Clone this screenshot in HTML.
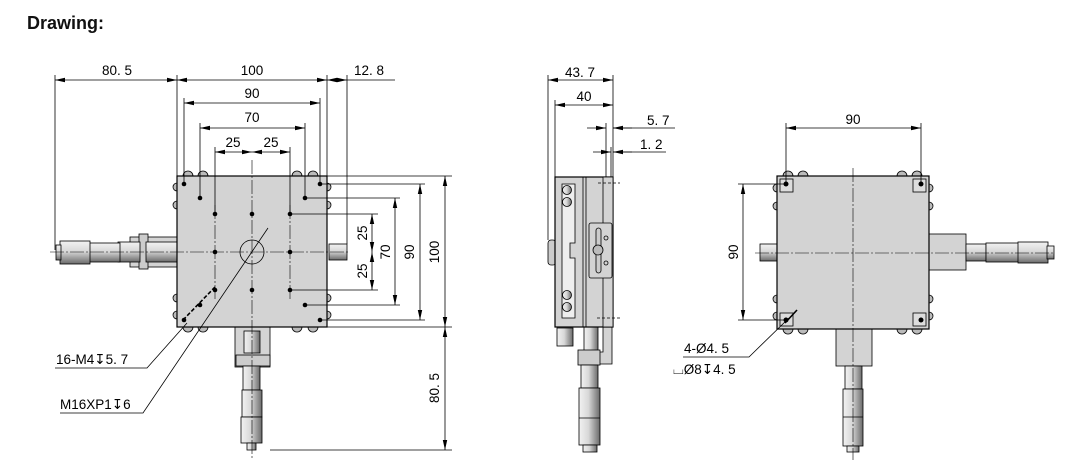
<!DOCTYPE html>
<html><head><meta charset="utf-8"><style>
html,body{margin:0;padding:0;background:#fff;}
svg{display:block;}
text{font-family:"Liberation Sans","DejaVu Sans",sans-serif;}
</style></head><body>
<svg width="1065" height="473" viewBox="0 0 1065 473" xmlns="http://www.w3.org/2000/svg">
<defs>
<linearGradient id="gv" x1="0" y1="0" x2="0" y2="1"><stop offset="0" stop-color="#f2f2f2"/><stop offset="0.45" stop-color="#d8d8d8"/><stop offset="1" stop-color="#6a6a6a"/></linearGradient>
<linearGradient id="gh" x1="0" y1="0" x2="1" y2="0"><stop offset="0" stop-color="#f2f2f2"/><stop offset="0.45" stop-color="#d8d8d8"/><stop offset="1" stop-color="#6a6a6a"/></linearGradient>
<marker id="a" markerWidth="10" markerHeight="6" refX="10" refY="3" orient="auto-start-reverse" markerUnits="userSpaceOnUse"><path d="M0,0.8 L10,3 L0,5.2z" fill="#000"/></marker>
</defs>
<text x="27" y="29" font-size="18" font-weight="bold" fill="#111">Drawing:</text>

<g stroke="#000" stroke-width="0.8" fill="none">
<rect x="130" y="237" width="47" height="30" fill="#d4d4d4"/>
<rect x="139" y="234" width="9" height="35" fill="#ccc"/>
<rect x="146" y="242" width="31" height="20" fill="url(#gv)"/>
<rect x="118" y="242" width="22" height="20" fill="url(#gv)"/>
<rect x="88" y="243" width="32" height="19" fill="url(#gv)"/>
<rect x="60" y="241" width="30" height="23" fill="url(#gv)"/>
<rect x="56" y="245" width="5" height="15" fill="url(#gv)"/>
<rect x="235" y="327" width="35" height="40" fill="#d4d4d4"/>
<rect x="236" y="355" width="34" height="11" fill="#ccc"/>
<rect x="244" y="331" width="16" height="22" fill="url(#gh)"/>
<rect x="243" y="366" width="17" height="24" fill="url(#gh)"/>
<rect x="242" y="390" width="20" height="27" fill="url(#gh)"/>
<rect x="241" y="417" width="21" height="26" fill="url(#gh)"/>
<rect x="247" y="443" width="9" height="7" fill="url(#gh)"/>
<rect x="329" y="244" width="18" height="16" fill="url(#gv)"/>
<g fill="#bbb">
<circle cx="188" cy="176" r="5"/><circle cx="203" cy="176" r="5"/><circle cx="297" cy="176" r="5"/><circle cx="313" cy="176" r="5"/>
<circle cx="188" cy="327" r="5"/><circle cx="203" cy="327" r="5"/><circle cx="297" cy="327" r="5"/><circle cx="313" cy="327" r="5"/>
<circle cx="177" cy="187" r="4"/><circle cx="177" cy="205" r="4"/><circle cx="177" cy="298" r="4"/><circle cx="177" cy="315" r="4"/>
<circle cx="327" cy="187" r="4"/><circle cx="327" cy="205" r="4"/><circle cx="327" cy="298" r="4"/><circle cx="327" cy="315" r="4"/>
</g>
<rect x="177" y="176" width="150" height="151" fill="#d3d3d3" stroke-width="1.2"/>
<circle cx="252" cy="252" r="12"/>
<g stroke-dasharray="14,2,2,2" stroke-width="0.6">
<line x1="252" y1="160" x2="252" y2="458"/>
<line x1="50" y1="252" x2="350" y2="252"/>
<line x1="215" y1="205" x2="215" y2="300"/><line x1="290" y1="205" x2="290" y2="300"/>
</g>
<g fill="#000" stroke="none">
<circle cx="184" cy="184" r="2.3"/><circle cx="320" cy="184" r="2.3"/><circle cx="184" cy="320" r="2.3"/><circle cx="320" cy="320" r="2.3"/>
<circle cx="200" cy="198" r="2.3"/><circle cx="305" cy="198" r="2.3"/><circle cx="200" cy="305" r="2.3"/><circle cx="305" cy="305" r="2.3"/>
<circle cx="215" cy="214" r="2.3"/><circle cx="252" cy="214" r="2.3"/><circle cx="290" cy="214" r="2.3"/>
<circle cx="215" cy="252" r="2.3"/><circle cx="290" cy="252" r="2.3"/>
<circle cx="215" cy="290" r="2.3"/><circle cx="252" cy="290" r="2.3"/><circle cx="290" cy="290" r="2.3"/>
</g>
<line x1="55" y1="75" x2="55" y2="250"/><line x1="177" y1="75" x2="177" y2="176"/><line x1="327" y1="75" x2="327" y2="176"/><line x1="347" y1="75" x2="347" y2="244"/>
<line x1="55" y1="80" x2="177" y2="80" marker-start="url(#a)" marker-end="url(#a)"/>
<line x1="177" y1="80" x2="327" y2="80" marker-start="url(#a)" marker-end="url(#a)"/>
<line x1="327" y1="80" x2="347" y2="80" marker-start="url(#a)" marker-end="url(#a)"/>
<line x1="347" y1="80" x2="395" y2="80"/>
<line x1="184" y1="98" x2="184" y2="184"/><line x1="320" y1="98" x2="320" y2="184"/>
<line x1="184" y1="103" x2="320" y2="103" marker-start="url(#a)" marker-end="url(#a)"/>
<line x1="200" y1="123" x2="200" y2="198"/><line x1="305" y1="123" x2="305" y2="198"/>
<line x1="200" y1="128" x2="305" y2="128" marker-start="url(#a)" marker-end="url(#a)"/>
<line x1="215" y1="147" x2="215" y2="214"/><line x1="290" y1="147" x2="290" y2="214"/>
<line x1="215" y1="152" x2="252" y2="152" marker-start="url(#a)" marker-end="url(#a)"/>
<line x1="252" y1="152" x2="290" y2="152" marker-start="url(#a)" marker-end="url(#a)"/>
<line x1="327" y1="176" x2="452" y2="176"/><line x1="327" y1="327" x2="452" y2="327"/><line x1="270" y1="450" x2="452" y2="450"/>
<line x1="320" y1="184" x2="425" y2="184"/><line x1="305" y1="198" x2="400" y2="198"/><line x1="290" y1="214" x2="378" y2="214"/><line x1="290" y1="290" x2="378" y2="290"/><line x1="305" y1="305" x2="400" y2="305"/><line x1="320" y1="320" x2="425" y2="320"/>
<line x1="372" y1="214" x2="372" y2="252" marker-start="url(#a)" marker-end="url(#a)"/>
<line x1="372" y1="252" x2="372" y2="290" marker-start="url(#a)" marker-end="url(#a)"/>
<line x1="395" y1="198" x2="395" y2="305" marker-start="url(#a)" marker-end="url(#a)"/>
<line x1="420" y1="184" x2="420" y2="320" marker-start="url(#a)" marker-end="url(#a)"/>
<line x1="445" y1="176" x2="445" y2="327" marker-start="url(#a)" marker-end="url(#a)"/>
<line x1="445" y1="327" x2="445" y2="450" marker-start="url(#a)" marker-end="url(#a)"/>
<polyline points="55,368 147,368 187,323"/>
<polyline points="60,413 143,413 268,228"/>
<line x1="183" y1="320" x2="215" y2="287" stroke-width="1.6" stroke-dasharray="4,2"/>

<rect x="548" y="240" width="8" height="25" rx="3" fill="#ccc"/>
<rect x="557" y="328" width="16" height="18" fill="url(#gh)"/>
<rect x="584" y="327" width="14" height="25" fill="url(#gh)"/>
<path d="M603,327 H612 V364 H580 V352 H603z" fill="#d3d3d3"/>
<rect x="578" y="350" width="22" height="15" fill="#ccc"/>
<rect x="581" y="365" width="17" height="23" fill="url(#gh)"/>
<rect x="579" y="388" width="21" height="57" fill="url(#gh)"/>
<line x1="579" y1="418" x2="600" y2="418"/>
<rect x="583" y="445" width="14" height="7" fill="url(#gh)"/>
<rect x="555" y="177" width="58" height="150" fill="#d3d3d3" stroke-width="1.2"/>
<line x1="583" y1="177" x2="583" y2="327"/><line x1="586" y1="177" x2="586" y2="327"/>
<rect x="603" y="177" width="10" height="150" fill="#d3d3d3"/>
<path d="M562,184 H575 V243 H570 V258 H575 V318 H562z" fill="#eee"/>
<g fill="url(#gh)"><circle cx="567" cy="190" r="4.5"/><circle cx="567" cy="202" r="4.5"/><circle cx="567" cy="295" r="4.5"/><circle cx="567" cy="307" r="4.5"/></g>
<rect x="589" y="223" width="23" height="55" rx="2" fill="#d3d3d3"/>
<rect x="596" y="228" width="5" height="45" rx="2.5" fill="#ccc"/>
<circle cx="598" cy="250" r="5" fill="#bbb"/>
<circle cx="606" cy="238" r="2"/><circle cx="606" cy="263" r="2"/>
<line x1="598" y1="183" x2="620" y2="183" stroke-dasharray="3,2"/><line x1="597" y1="318" x2="620" y2="318" stroke-dasharray="3,2"/>
<line x1="548" y1="75" x2="548" y2="240"/><line x1="613" y1="75" x2="613" y2="177"/><line x1="555" y1="100" x2="555" y2="177"/>
<line x1="548" y1="80" x2="613" y2="80" marker-start="url(#a)" marker-end="url(#a)"/>
<line x1="555" y1="105" x2="613" y2="105" marker-start="url(#a)" marker-end="url(#a)"/>
<line x1="606" y1="123" x2="606" y2="177"/><line x1="611" y1="147" x2="611" y2="177"/>
<line x1="587" y1="128" x2="606" y2="128" marker-end="url(#a)"/><line x1="632" y1="128" x2="613" y2="128" marker-end="url(#a)"/><line x1="613" y1="128" x2="675" y2="128"/>
<line x1="593" y1="152" x2="611" y2="152" marker-end="url(#a)"/><line x1="632" y1="152" x2="613" y2="152" marker-end="url(#a)"/><line x1="613" y1="152" x2="666" y2="152"/>

<rect x="929" y="234" width="37" height="36" fill="#d3d3d3"/>
<rect x="966" y="244" width="20" height="17" fill="url(#gv)"/>
<rect x="986" y="243" width="33" height="19" fill="url(#gv)"/>
<rect x="1018" y="242" width="30" height="21" fill="url(#gv)"/>
<rect x="1047" y="246" width="7" height="13" fill="url(#gv)"/>
<rect x="836" y="329" width="36" height="37" fill="#d3d3d3"/>
<rect x="845" y="366" width="17" height="23" fill="url(#gh)"/>
<rect x="843" y="389" width="20" height="57" fill="url(#gh)"/>
<line x1="843" y1="417" x2="863" y2="417"/>
<rect x="847" y="446" width="12" height="6" fill="url(#gh)"/>
<rect x="760" y="244" width="17" height="17" fill="url(#gv)"/>
<g fill="#bbb">
<circle cx="788" cy="176" r="5"/><circle cx="803" cy="176" r="5"/><circle cx="902" cy="176" r="5"/><circle cx="917" cy="176" r="5"/>
<circle cx="788" cy="329" r="5"/><circle cx="803" cy="329" r="5"/><circle cx="902" cy="329" r="5"/><circle cx="917" cy="329" r="5"/>
<circle cx="777" cy="188" r="4"/><circle cx="777" cy="206" r="4"/><circle cx="777" cy="299" r="4"/><circle cx="777" cy="316" r="4"/>
<circle cx="929" cy="188" r="4"/><circle cx="929" cy="206" r="4"/><circle cx="929" cy="299" r="4"/><circle cx="929" cy="316" r="4"/>
</g>
<rect x="777" y="176" width="152" height="153" fill="#d3d3d3" stroke-width="1.2"/>
<rect x="780" y="179" width="13" height="13" fill="#ddd"/><rect x="913" y="179" width="13" height="13" fill="#ddd"/>
<rect x="780" y="313" width="13" height="13" fill="#ddd"/><rect x="913" y="313" width="13" height="13" fill="#ddd"/>
<g fill="#000" stroke="none"><circle cx="786" cy="184" r="2.5"/><circle cx="921" cy="184" r="2.5"/><circle cx="786" cy="320" r="2.5"/><circle cx="921" cy="320" r="2.5"/></g>
<g stroke-dasharray="14,2,2,2" stroke-width="0.6">
<line x1="853" y1="168" x2="853" y2="460"/>
<line x1="755" y1="253" x2="1055" y2="253"/>
</g>
<line x1="786" y1="123" x2="786" y2="184"/><line x1="921" y1="123" x2="921" y2="184"/>
<line x1="786" y1="128" x2="921" y2="128" marker-start="url(#a)" marker-end="url(#a)"/>
<line x1="738" y1="184" x2="786" y2="184"/><line x1="738" y1="320" x2="786" y2="320"/>
<line x1="743" y1="184" x2="743" y2="320" marker-start="url(#a)" marker-end="url(#a)"/>
<polyline points="683,357 749,357 789,318"/>
<line x1="785" y1="323" x2="797" y2="310" stroke-width="1.6"/>
</g>

<g font-size="13.5" fill="#000">
<text x="117" y="75" text-anchor="middle">80. 5</text>
<text x="252" y="75" text-anchor="middle">100</text>
<text x="369" y="75" text-anchor="middle">12. 8</text>
<text x="252" y="98" text-anchor="middle">90</text>
<text x="252" y="122" text-anchor="middle">70</text>
<text x="233" y="147" text-anchor="middle">25</text>
<text x="271" y="147" text-anchor="middle">25</text>
<text transform="translate(367,233) rotate(-90)" text-anchor="middle">25</text>
<text transform="translate(367,271) rotate(-90)" text-anchor="middle">25</text>
<text transform="translate(390,252) rotate(-90)" text-anchor="middle">70</text>
<text transform="translate(414,252) rotate(-90)" text-anchor="middle">90</text>
<text transform="translate(439,252) rotate(-90)" text-anchor="middle">100</text>
<text transform="translate(439,388) rotate(-90)" text-anchor="middle">80. 5</text>
<text x="56" y="364">16-M4↧5. 7</text>
<text x="60" y="409">M16XP1↧6</text>
<text x="580" y="77" text-anchor="middle">43. 7</text>
<text x="584" y="101" text-anchor="middle">40</text>
<text x="647" y="125">5. 7</text>
<text x="640" y="149">1. 2</text>
<text x="853" y="124" text-anchor="middle">90</text>
<text transform="translate(738,252) rotate(-90)" text-anchor="middle">90</text>
<text x="684" y="353">4-Ø4. 5</text>
<text x="673" y="374">⌴Ø8↧4. 5</text>
</g>
</svg>
</body></html>
